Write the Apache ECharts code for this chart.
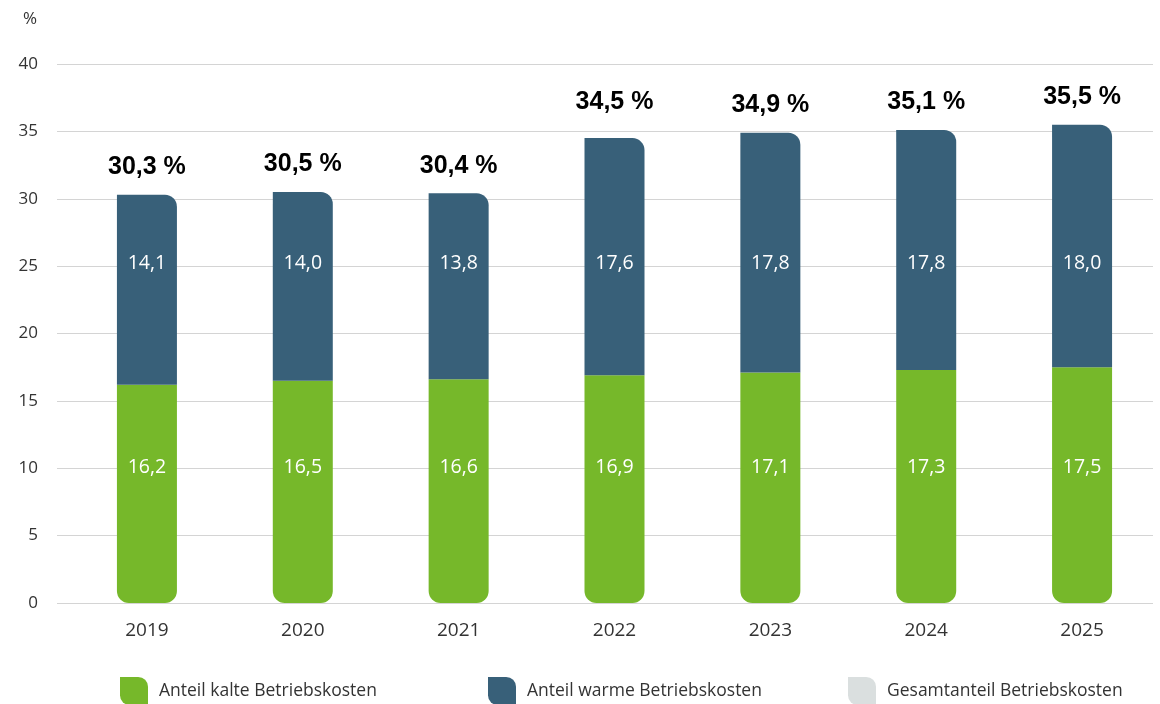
<!DOCTYPE html>
<html>
<head>
<meta charset="utf-8">
<script src="https://cdn.jsdelivr.net/npm/echarts@6/dist/echarts.min.js"></script>
<style>
html,body{margin:0;padding:0;background:#fff;}
#chart{width:1160px;height:704px;}
</style>
</head>
<body>
<div id="chart"></div>
<script>
const years = ['2019', '2020', '2021', '2022', '2023', '2024', '2025'];
const kalte = [16.2, 16.5, 16.6, 16.9, 17.1, 17.3, 17.5];
const warme = [14.1, 14.0, 13.8, 17.6, 17.8, 17.8, 18.0];
const gesamt = [30.3, 30.5, 30.4, 35.1, 34.9, 35.1, 35.5];
const gesamtLabels = ['30,3 %', '30,5 %', '30,4 %', '34,5 %', '34,9 %', '35,1 %', '35,5 %'];
const yTicks = [0, 5, 10, 15, 20, 25, 30, 35, 40];

const names = ['Anteil kalte Betriebskosten', 'Anteil warme Betriebskosten', 'Gesamtanteil Betriebskosten'];
const GREEN = '#76b82a', BLUE = '#386079', GRAY = '#dadfdf';
const FONT = 'Open Sans';
const BASE_Y = 603;
const fmt = v => String(v.toFixed(1)).replace('.', ',');
const leaf = 'path://M0,0 H65 A35,35 0 0 1 100,35 V100 H35 A35,35 0 0 1 0,65 Z';

const chart = echarts.init(document.getElementById('chart'));
const legendBase = {
  top: 677, padding: 0, itemWidth: 28, itemHeight: 28, icon: leaf,
  textStyle: { fontFamily: FONT, fontSize: 17.5, color: '#333', padding: [0, 0, 8, 6] },
  selectedMode: false
};
const colors = [GREEN, BLUE, GRAY];
const legItem = i => ({ name: names[i], icon: leaf, itemStyle: { color: colors[i], opacity: 1 } });
chart.setOption({
  animation: false,
  backgroundColor: '#fff',
  title: { text: '%', left: 18, top: 6, textStyle: { fontFamily: FONT, fontSize: 17, fontWeight: 'normal', color: '#333' } },
  legend: [
    Object.assign({}, legendBase, { left: 120, data: [legItem(0)] }),
    Object.assign({}, legendBase, { left: 488, data: [legItem(1)] }),
    Object.assign({}, legendBase, { left: 848, data: [legItem(2)] })
  ],
  grid: [
    { left: 57, right: 7, top: 64, bottom: 101 },
    { left: 69, right: -3, top: 64, bottom: 101 }
  ],
  xAxis: [
    { type: 'category', gridIndex: 0, data: years, show: false },
    { type: 'category', gridIndex: 1, data: years,
      axisLine: { show: false }, axisTick: { show: false },
      axisLabel: { fontFamily: FONT, fontSize: 19, color: '#333', margin: 18 } }
  ],
  yAxis: [
    { type: 'value', gridIndex: 0, min: 0, max: 40, interval: 5,
      axisLine: { show: false }, axisTick: { show: false },
      axisLabel: { fontFamily: FONT, fontSize: 17, color: '#333', margin: 19,
        formatter: v => yTicks.indexOf(v) >= 0 ? String(v) : '' },
      splitLine: { lineStyle: { color: '#d4d4d4', width: 1 } } },
    { type: 'value', gridIndex: 1, min: 0, max: 40, interval: 5, show: false, splitLine: { show: false } }
  ],
  series: [
    { name: names[2], type: 'bar', xAxisIndex: 1, yAxisIndex: 1, data: gesamt, barWidth: 60, barGap: '-100%', z: 1,
      itemStyle: { color: 'rgba(0,0,0,0)', borderRadius: [0, 12, 0, 0] },
      label: { show: true, position: 'top', distance: 15, fontFamily: 'Liberation Sans', fontWeight: 'bold', fontSize: 25, color: '#000',
        formatter: p => gesamtLabels[p.dataIndex] } },
    { name: names[0], type: 'bar', stack: 'a', xAxisIndex: 1, yAxisIndex: 1, data: kalte, barWidth: 60, z: 3,
      itemStyle: { color: GREEN, borderRadius: [0, 0, 12, 12] },
      label: { show: true, position: 'inside', fontFamily: FONT, fontSize: 19.5, color: '#fff', formatter: p => fmt(p.value) },
      labelLayout: p => ({ x: p.rect.x + p.rect.width / 2, y: BASE_Y - 136, align: 'center', verticalAlign: 'middle' }) },
    { name: names[1], type: 'bar', stack: 'a', xAxisIndex: 1, yAxisIndex: 1, data: warme, barWidth: 60, z: 3,
      itemStyle: { color: BLUE, borderRadius: [0, 12, 0, 0] },
      label: { show: true, position: 'inside', fontFamily: FONT, fontSize: 19.5, color: '#fff', formatter: p => fmt(p.value) },
      labelLayout: p => ({ x: p.rect.x + p.rect.width / 2, y: BASE_Y - 340, align: 'center', verticalAlign: 'middle' }) }
  ]
});
</script>
</body>
</html>
